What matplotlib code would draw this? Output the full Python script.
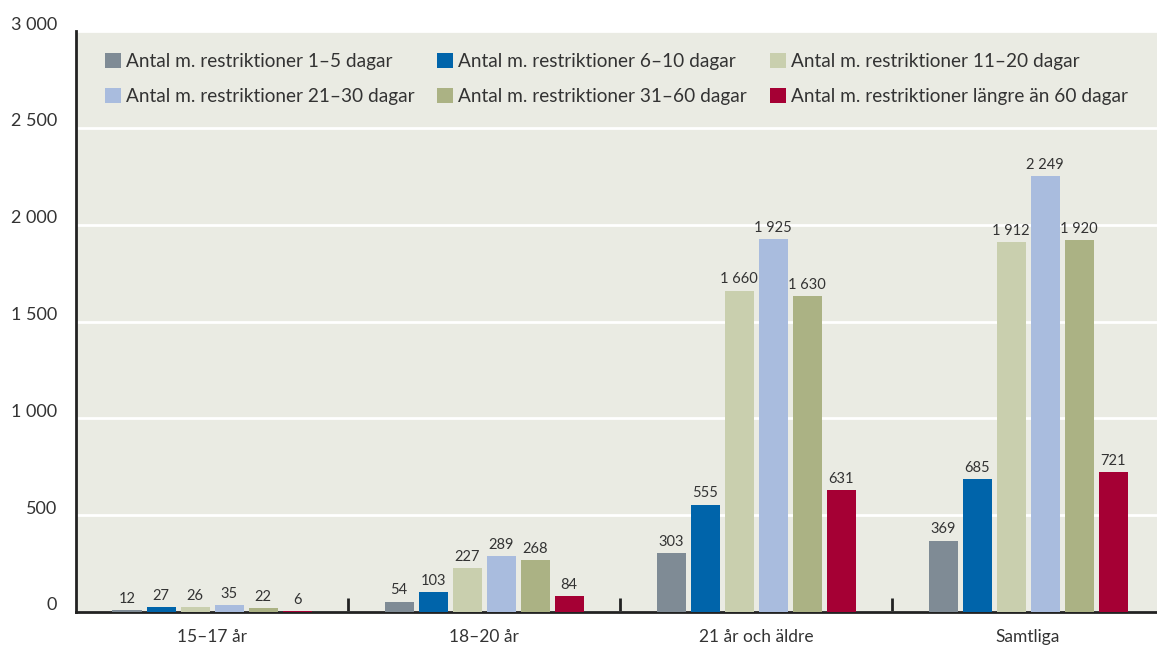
import matplotlib
matplotlib.use("Agg")
import matplotlib.pyplot as plt
import numpy as np
from matplotlib.transforms import ScaledTranslation

plt.rcParams['font.family'] = ['Lato', 'DejaVu Sans']

categories = ["15–17 år", "18–20 år", "21 år och äldre", "Samtliga"]
series_names = [
    "Antal m. restriktioner 1–5 dagar",
    "Antal m. restriktioner 6–10 dagar",
    "Antal m. restriktioner 11–20 dagar",
    "Antal m. restriktioner 21–30 dagar",
    "Antal m. restriktioner 31–60 dagar",
    "Antal m. restriktioner längre än 60 dagar",
]
d1_5 = [12, 54, 303, 369]
d6_10 = [27, 103, 555, 685]
d11_20 = [26, 227, 1660, 1912]
d21_30 = [35, 289, 1925, 2249]
d31_60 = [22, 268, 1630, 1920]
d60plus = [6, 84, 631, 721]
series = [d1_5, d6_10, d11_20, d21_30, d31_60, d60plus]
colors = ["#7f8b95", "#0064aa", "#c9cfae", "#a9bcde", "#abb284", "#a50034"]
yticks = [0, 500, 1000, 1500, 2000, 2500, 3000]

W, H = 1157, 647
fig = plt.figure(figsize=(W / 100, H / 100), dpi=100)
left, right, top, bottom = 76, 1157, 31, 612
ax = fig.add_axes([left / W, (H - bottom) / H, (right - left) / W, (bottom - top) / H])
ax.set_facecolor("#eaebe3")

group_px = 272.0
x = np.arange(len(categories))
step = 34 / group_px
bw = 29 / group_px
n = len(series)

def fmt(v):
    return f"{v:,}".replace(",", " ")

handles = []
for i, (vals, c, name) in enumerate(zip(series, colors, series_names)):
    pos = x + (i - (n - 1) / 2) * step
    bars = ax.bar(pos, vals, width=bw, color=c, label=name, zorder=3)
    ax.bar_label(bars, labels=[fmt(v) for v in vals], padding=3, fontsize=10.5, color="#333333")
    handles.append(bars)

ax.set_ylim(0, 3000)
ax.set_xlim(-0.5, -0.5 + (right - left) / group_px)
ax.set_yticks(yticks)
ax.set_yticklabels([fmt(v) for v in yticks], fontsize=13, color="#333333")
ax.tick_params(axis='y', length=0, pad=13.5)
offset = ScaledTranslation(0, 8 / 100, fig.dpi_scale_trans)
for lbl in ax.get_yticklabels():
    lbl.set_transform(lbl.get_transform() + offset)
ax.grid(axis='y', color="white", linewidth=2, zorder=1)
ax.set_axisbelow(True)

ax.set_xticks(x)
ax.set_xticklabels(categories, fontsize=12.5, color="#333333")
ax.tick_params(axis='x', which='major', length=0, pad=12)
ax.set_xticks([0.5, 1.5, 2.5], minor=True)
ax.tick_params(axis='x', which='minor', direction='in', length=10, width=2, color="#222222")

for s in ["top", "right"]:
    ax.spines[s].set_visible(False)
ax.spines["left"].set_linewidth(2)
ax.spines["bottom"].set_linewidth(2)
ax.spines["left"].set_color("#222222")
ax.spines["bottom"].set_color("#222222")

order = [0, 3, 1, 4, 2, 5]
leg = ax.legend([handles[i] for i in order], [series_names[i] for i in order],
                ncol=3, loc="upper left", bbox_to_anchor=(0.0268, 0.962), frameon=False,
                borderpad=0, borderaxespad=0,
                fontsize=13.7, handlelength=0.83, handleheight=0.83, handletextpad=0.27,
                columnspacing=1.2, labelspacing=0.95, labelcolor="#333333")

fig.savefig("out.png", dpi=100, facecolor="white")
